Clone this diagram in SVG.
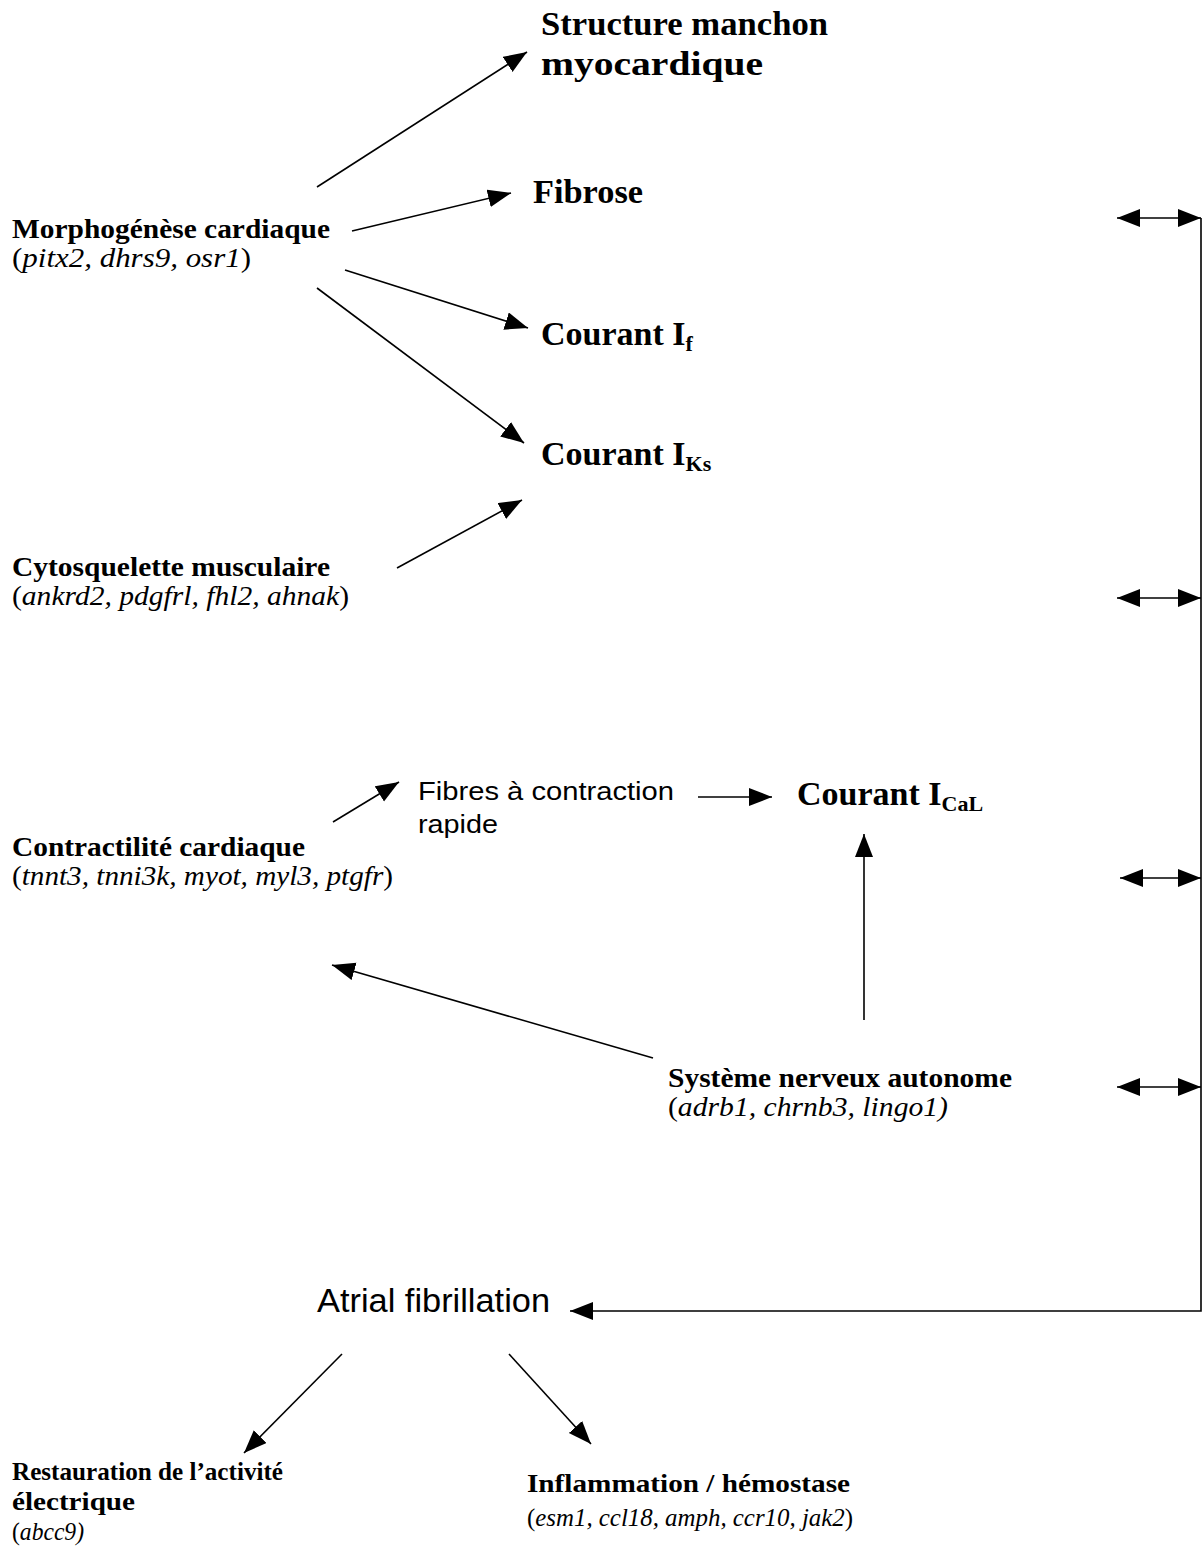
<svg xmlns="http://www.w3.org/2000/svg" width="1204" height="1562" viewBox="0 0 1204 1562">
<style>
.b{font-family:"Liberation Serif","Times New Roman",serif;font-weight:bold;fill:#000}
.r{font-family:"Liberation Serif","Times New Roman",serif;fill:#000}
.s{font-family:"Liberation Sans",Arial,sans-serif;fill:#000}
.i{font-style:italic}
.c{fill:none;stroke:#000;stroke-width:1.6}
</style>
<defs>
<marker id="ah" markerUnits="userSpaceOnUse" markerWidth="26" markerHeight="20" refX="23" refY="9" orient="auto-start-reverse" viewBox="0 0 26 20">
<path d="M0,0 L23,9 L0,18 z" fill="#000"/>
</marker>
</defs>
<rect width="1204" height="1562" fill="#fff"/>

<g id="connectors">
<line class="c" x1="317" y1="187" x2="527" y2="52" marker-end="url(#ah)"/>
<line class="c" x1="352" y1="231" x2="511" y2="193" marker-end="url(#ah)"/>
<line class="c" x1="345" y1="270" x2="528" y2="328" marker-end="url(#ah)"/>
<line class="c" x1="317" y1="288" x2="524" y2="443" marker-end="url(#ah)"/>
<line class="c" x1="397" y1="568" x2="522" y2="500" marker-end="url(#ah)"/>
<line class="c" x1="333" y1="822" x2="399" y2="782" marker-end="url(#ah)"/>
<line class="c" x1="698" y1="797" x2="772" y2="797" marker-end="url(#ah)"/>
<line class="c" x1="864" y1="1020" x2="864" y2="834" marker-end="url(#ah)"/>
<line class="c" x1="653" y1="1058" x2="332" y2="965" marker-end="url(#ah)"/>
<line class="c" x1="342" y1="1354" x2="244" y2="1453" marker-end="url(#ah)"/>
<line class="c" x1="509" y1="1354" x2="591" y2="1444" marker-end="url(#ah)"/>
<polyline class="c" points="1201,218 1201,1311 570,1311" marker-end="url(#ah)"/>
<line class="c" x1="1117" y1="218" x2="1201" y2="218" marker-start="url(#ah)" marker-end="url(#ah)"/>
<line class="c" x1="1117" y1="598" x2="1201" y2="598" marker-start="url(#ah)" marker-end="url(#ah)"/>
<line class="c" x1="1120" y1="878" x2="1201" y2="878" marker-start="url(#ah)" marker-end="url(#ah)"/>
<line class="c" x1="1117" y1="1087" x2="1201" y2="1087" marker-start="url(#ah)" marker-end="url(#ah)"/>
</g>

<g id="structure">
<text class="b" x="541" y="35" font-size="34" textLength="287" lengthAdjust="spacingAndGlyphs">Structure manchon</text>
<text class="b" x="541" y="75" font-size="34" textLength="222" lengthAdjust="spacingAndGlyphs">myocardique</text>
</g>
<g id="fibrose">
<text class="b" x="533" y="203" font-size="34" textLength="110" lengthAdjust="spacingAndGlyphs">Fibrose</text>
</g>
<g id="courant-if">
<text class="b" x="541" y="345" font-size="34">Courant I<tspan font-size="22" dy="6">f</tspan></text>
</g>
<g id="courant-iks">
<text class="b" x="541" y="465" font-size="34">Courant I<tspan font-size="22" dy="6">Ks</tspan></text>
</g>
<g id="morphogenese">
<text class="b" x="12" y="238" font-size="27" textLength="318" lengthAdjust="spacingAndGlyphs">Morphogénèse cardiaque</text>
<text class="r" x="12" y="267" font-size="27" textLength="239" lengthAdjust="spacingAndGlyphs">(<tspan class="i">pitx2, dhrs9, osr1</tspan>)</text>
</g>
<g id="cytosquelette">
<text class="b" x="12" y="576" font-size="27" textLength="318" lengthAdjust="spacingAndGlyphs">Cytosquelette musculaire</text>
<text class="r" x="12" y="605" font-size="27" textLength="337" lengthAdjust="spacingAndGlyphs">(<tspan class="i">ankrd2, pdgfrl, fhl2, ahnak</tspan>)</text>
</g>
<g id="fibres">
<text class="s" x="418" y="800" font-size="25" textLength="256" lengthAdjust="spacingAndGlyphs">Fibres à contraction</text>
<text class="s" x="418" y="833" font-size="25" textLength="80" lengthAdjust="spacingAndGlyphs">rapide</text>
</g>
<g id="courant-ical">
<text class="b" x="797" y="805" font-size="34">Courant I<tspan font-size="22" dy="6">CaL</tspan></text>
</g>
<g id="contractilite">
<text class="b" x="12" y="856" font-size="27" textLength="293" lengthAdjust="spacingAndGlyphs">Contractilité cardiaque</text>
<text class="r" x="12" y="885" font-size="27" textLength="381" lengthAdjust="spacingAndGlyphs">(<tspan class="i">tnnt3, tnni3k, myot, myl3, ptgfr</tspan>)</text>
</g>
<g id="systeme-nerveux">
<text class="b" x="668" y="1087" font-size="27" textLength="344" lengthAdjust="spacingAndGlyphs">Système nerveux autonome</text>
<text class="r" x="668" y="1116" font-size="27" textLength="280" lengthAdjust="spacingAndGlyphs">(<tspan class="i">adrb1, chrnb3, lingo1)</tspan></text>
</g>
<g id="atrial-fibrillation">
<text class="s" x="317" y="1312" font-size="33" textLength="233" lengthAdjust="spacingAndGlyphs">Atrial fibrillation</text>
</g>
<g id="restauration">
<text class="b" x="12" y="1480" font-size="26" textLength="271" lengthAdjust="spacingAndGlyphs">Restauration de l’activité</text>
<text class="b" x="12" y="1510" font-size="26" textLength="123" lengthAdjust="spacingAndGlyphs">électrique</text>
<text class="r" x="12" y="1540" font-size="26" textLength="72" lengthAdjust="spacingAndGlyphs">(<tspan class="i">abcc9)</tspan></text>
</g>
<g id="inflammation">
<text class="b" x="527" y="1492" font-size="25" textLength="323" lengthAdjust="spacingAndGlyphs">Inflammation / hémostase</text>
<text class="r" x="527" y="1526" font-size="25" textLength="326" lengthAdjust="spacingAndGlyphs">(<tspan class="i">esm1, ccl18, amph, ccr10, jak2</tspan>)</text>
</g>
</svg>
